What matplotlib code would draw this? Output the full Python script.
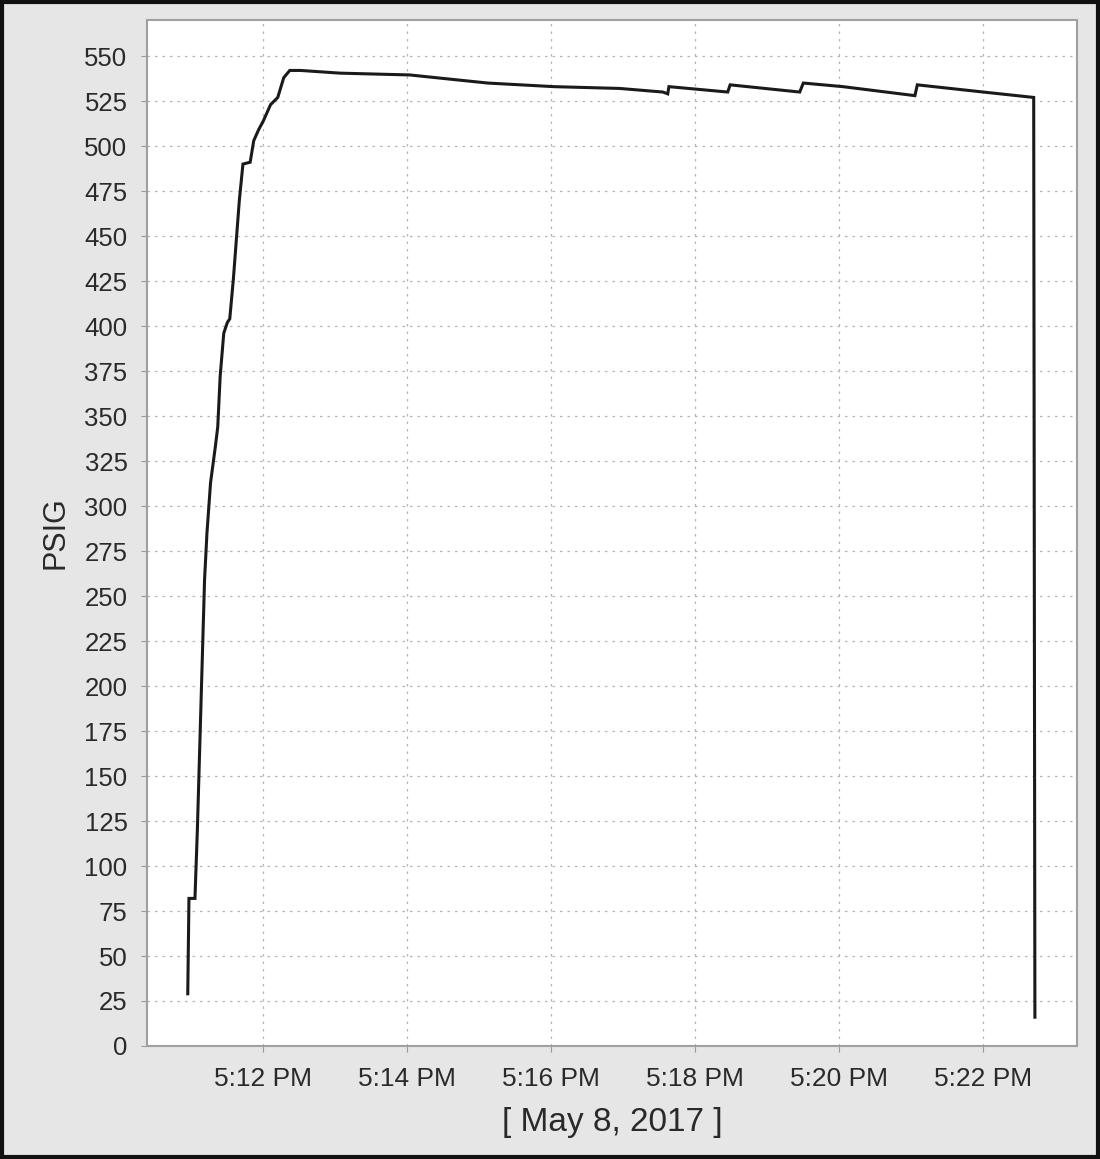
import matplotlib
matplotlib.use('Agg')
import matplotlib.pyplot as plt
import matplotlib.dates as mdates
from matplotlib.patches import Rectangle
from datetime import datetime

# pressure log
times = ['17:10:57', '17:10:58', '17:11:03', '17:11:05', '17:11:11', '17:11:13',
         '17:11:16', '17:11:20', '17:11:22', '17:11:24', '17:11:27', '17:11:30',
         '17:11:32', '17:11:35', '17:11:40', '17:11:43', '17:11:49', '17:11:52',
         '17:11:56', '17:12:00', '17:12:06', '17:12:12', '17:12:17', '17:12:22',
         '17:12:31', '17:13:04', '17:14:02', '17:14:38', '17:15:07', '17:16:02',
         '17:16:57', '17:17:33', '17:17:37', '17:17:38', '17:18:27', '17:18:29',
         '17:19:27', '17:19:30', '17:20:03', '17:20:51', '17:21:03', '17:21:05',
         '17:22:00', '17:22:42', '17:22:43']
psig = [29, 82, 82, 120, 259, 285,
        313, 333, 344, 372, 396, 402,
        404, 426, 470, 490, 491, 503,
        509, 514, 523, 527, 538, 542,
        542, 540.5, 539.5, 537, 535, 533,
        532, 530, 529, 533, 530, 534,
        530, 535, 533, 529, 528, 534,
        530, 527, 16]
day = '2017-05-08'
y_ticks = list(range(0, 551, 25))

stamps = [datetime.strptime(day + ' ' + t, '%Y-%m-%d %H:%M:%S') for t in times]

fig = plt.figure(figsize=(11, 11.59), dpi=100, facecolor='#e6e6e6')
plt.rcParams['font.family'] = ['Liberation Sans', 'DejaVu Sans']
ax = fig.add_axes([0.1336, 0.0975, 0.8454, 0.8852])
ax.set_facecolor('white')

ax.plot(stamps, psig, color='#1a1a1a', linewidth=2.2, solid_joinstyle='miter')

ax.set_ylim(0, 570)
ax.set_yticks(y_ticks)
ax.set_xlim(datetime(2017, 5, 8, 17, 10, 23), datetime(2017, 5, 8, 17, 23, 18))
ax.xaxis.set_major_locator(mdates.MinuteLocator(byminute=range(0, 60, 2)))
ax.xaxis.set_major_formatter(plt.FuncFormatter(
    lambda v, pos: mdates.num2date(v).strftime('%I:%M %p').lstrip('0')))

ax.grid(True, color='#b5b5b5', linestyle=(0, (2, 4)), linewidth=0.9)
ax.tick_params(axis='both', labelcolor='#2a2a2a', color='#999999',
               length=4, width=0.8)
ax.tick_params(axis='x', labelsize=19, pad=11)
ax.tick_params(axis='y', labelsize=18.5, pad=10)
for s in ax.spines.values():
    s.set_color('#a0a0a0')
    s.set_linewidth(1.5)

ax.set_ylabel('PSIG', fontsize=22, color='#2a2a2a', labelpad=10)
ax.set_xlabel('[ May 8, 2017 ]', fontsize=24, color='#2a2a2a', labelpad=12)

# outer frame of the scanned figure
fig.patches.append(Rectangle((0.002, 0.002), 0.996, 0.996, transform=fig.transFigure,
                             fill=False, edgecolor='#111111', linewidth=3))

fig.savefig('out.png', dpi=100, facecolor=fig.get_facecolor())
